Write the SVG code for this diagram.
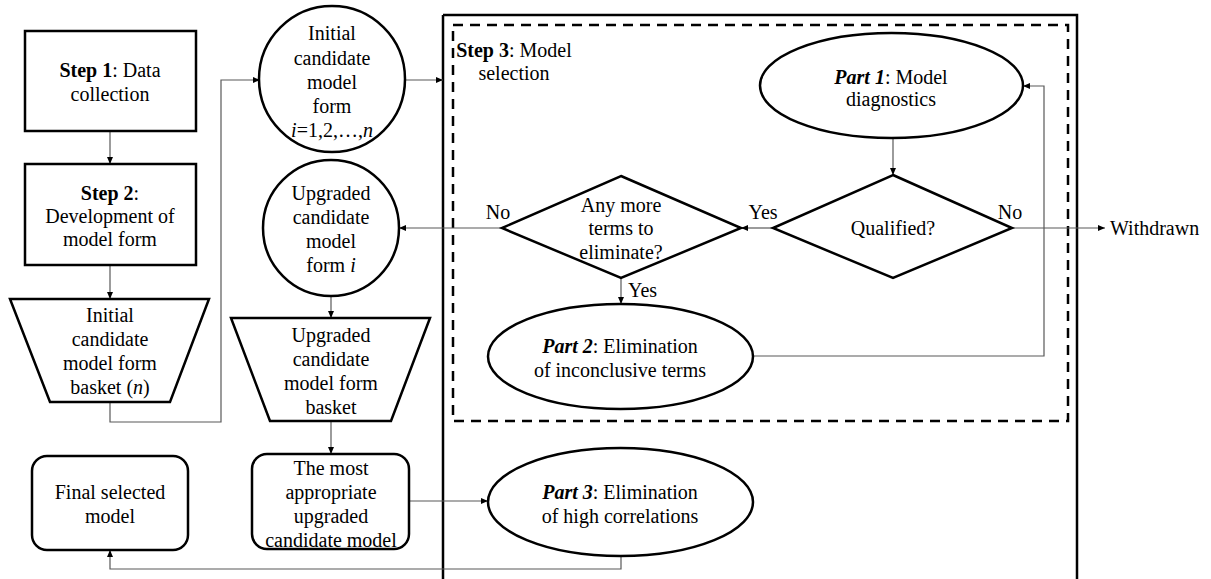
<svg xmlns="http://www.w3.org/2000/svg" width="1211" height="579" viewBox="0 0 1211 579">
<defs>
<marker id="ah" markerWidth="8" markerHeight="8" refX="7" refY="4" orient="auto" markerUnits="userSpaceOnUse">
<path d="M0,1 L7,4 L0,7 Z" fill="#000"/>
</marker>
<style>
.n{fill:#fff;stroke:#000;stroke-width:2.5}
.c{fill:none;stroke:#595959;stroke-width:1.2}
.a{marker-end:url(#ah)}
text{font-family:"Liberation Serif",Tinos,"Times New Roman",Times,"Noto Serif","DejaVu Serif",serif;font-size:20px;fill:#000;text-anchor:middle}
.b{font-weight:bold}
.bi{font-weight:bold;font-style:italic}
.i{font-style:italic}
.l{text-anchor:start}
</style>
</defs>
<rect width="1211" height="579" fill="#fff"/>
<g id="step3-frame">
<path d="M443,15 H1077 V579 M443,15 V579" fill="none" stroke="#000" stroke-width="2.5"/>
<rect x="453" y="25" width="615" height="396" fill="none" stroke="#000" stroke-width="2.5" stroke-dasharray="10,7"/>
<text x="514" y="57"><tspan class="b">Step 3</tspan>: Model</text>
<text x="514" y="80">selection</text>
</g>
<g id="connectors">
<path class="c a" d="M110,131 V164"/>
<path class="c a" d="M110,265 V299"/>
<path class="c a" d="M110,402 V422 H221 V80 H260"/>
<path class="c a" d="M404,80 H443"/>
<path class="c a" d="M893,138 V175"/>
<path class="c a" d="M773,228 H741"/>
<path class="c a" d="M1012,228 H1105"/>
<path class="c a" d="M502,228 H399"/>
<path class="c a" d="M621,278 V304"/>
<path class="c a" d="M753,356 H1044 V86 H1023"/>
<path class="c a" d="M331,296 V318"/>
<path class="c a" d="M331,421 V454"/>
<path class="c a" d="M409,501 H488"/>
<path class="c a" d="M621,556 V569 H110 V550"/>
<text x="1010" y="219">No</text>
<text x="763" y="219">Yes</text>
<text x="498" y="219">No</text>
<text class="l" x="628" y="297">Yes</text>
<text class="l" x="1110" y="235">Withdrawn</text>
</g>
<g id="step1">
<rect class="n" x="25" y="31" width="171" height="100"/>
<text x="110" y="77"><tspan class="b">Step 1</tspan>: Data</text>
<text x="110" y="101">collection</text>
</g>
<g id="step2">
<rect class="n" x="25" y="164" width="171" height="101"/>
<text x="110" y="200"><tspan class="b">Step 2</tspan>:</text>
<text x="110" y="223">Development of</text>
<text x="110" y="246">model form</text>
</g>
<g id="basket1">
<polygon class="n" points="10,299 209,299 170,402 50,402"/>
<text x="110" y="322">Initial</text>
<text x="110" y="346">candidate</text>
<text x="110" y="370">model form</text>
<text x="110" y="394">basket (<tspan class="i">n</tspan>)</text>
</g>
<g id="initial-form">
<circle class="n" cx="332" cy="79" r="73"/>
<text x="332" y="40">Initial</text>
<text x="332" y="65">candidate</text>
<text x="332" y="89">model</text>
<text x="332" y="113">form</text>
<text x="332" y="137"><tspan class="i">i</tspan>=1,2,…,<tspan class="i">n</tspan></text>
</g>
<g id="upgraded-form">
<circle class="n" cx="331" cy="228" r="68"/>
<text x="331" y="200">Upgraded</text>
<text x="331" y="224">candidate</text>
<text x="331" y="248">model</text>
<text x="331" y="272">form <tspan class="i">i</tspan></text>
</g>
<g id="basket2">
<polygon class="n" points="231,318 430,318 391,421 270,421"/>
<text x="331" y="342">Upgraded</text>
<text x="331" y="366">candidate</text>
<text x="331" y="390">model form</text>
<text x="331" y="414">basket</text>
</g>
<g id="most-appropriate">
<rect class="n" x="252" y="454" width="157" height="95" rx="15"/>
<text x="331" y="475">The most</text>
<text x="331" y="499">appropriate</text>
<text x="331" y="523">upgraded</text>
<text x="331" y="547">candidate model</text>
</g>
<g id="final">
<rect class="n" x="32" y="456" width="156" height="94" rx="15"/>
<text x="110" y="499">Final selected</text>
<text x="110" y="523">model</text>
</g>
<g id="part1">
<ellipse class="n" cx="891.5" cy="85.5" rx="131.5" ry="52.5"/>
<text x="891" y="84"><tspan class="bi">Part 1</tspan>: Model</text>
<text x="891" y="106">diagnostics</text>
</g>
<g id="qualified">
<polygon class="n" points="893,175 1012,228 893,278 773,228"/>
<text x="893" y="235">Qualified?</text>
</g>
<g id="any-more">
<polygon class="n" points="621,176 741,228 621,278 502,228"/>
<text x="621" y="212">Any more</text>
<text x="621" y="235">terms to</text>
<text x="621" y="259">eliminate?</text>
</g>
<g id="part2">
<ellipse class="n" cx="620.5" cy="356.5" rx="132.5" ry="52.5"/>
<text x="620" y="353"><tspan class="bi">Part 2</tspan>: Elimination</text>
<text x="620" y="377">of inconclusive terms</text>
</g>
<g id="part3">
<ellipse class="n" cx="620.5" cy="502" rx="132.5" ry="54"/>
<text x="620" y="499"><tspan class="bi">Part 3</tspan>: Elimination</text>
<text x="620" y="523">of high correlations</text>
</g>
</svg>
